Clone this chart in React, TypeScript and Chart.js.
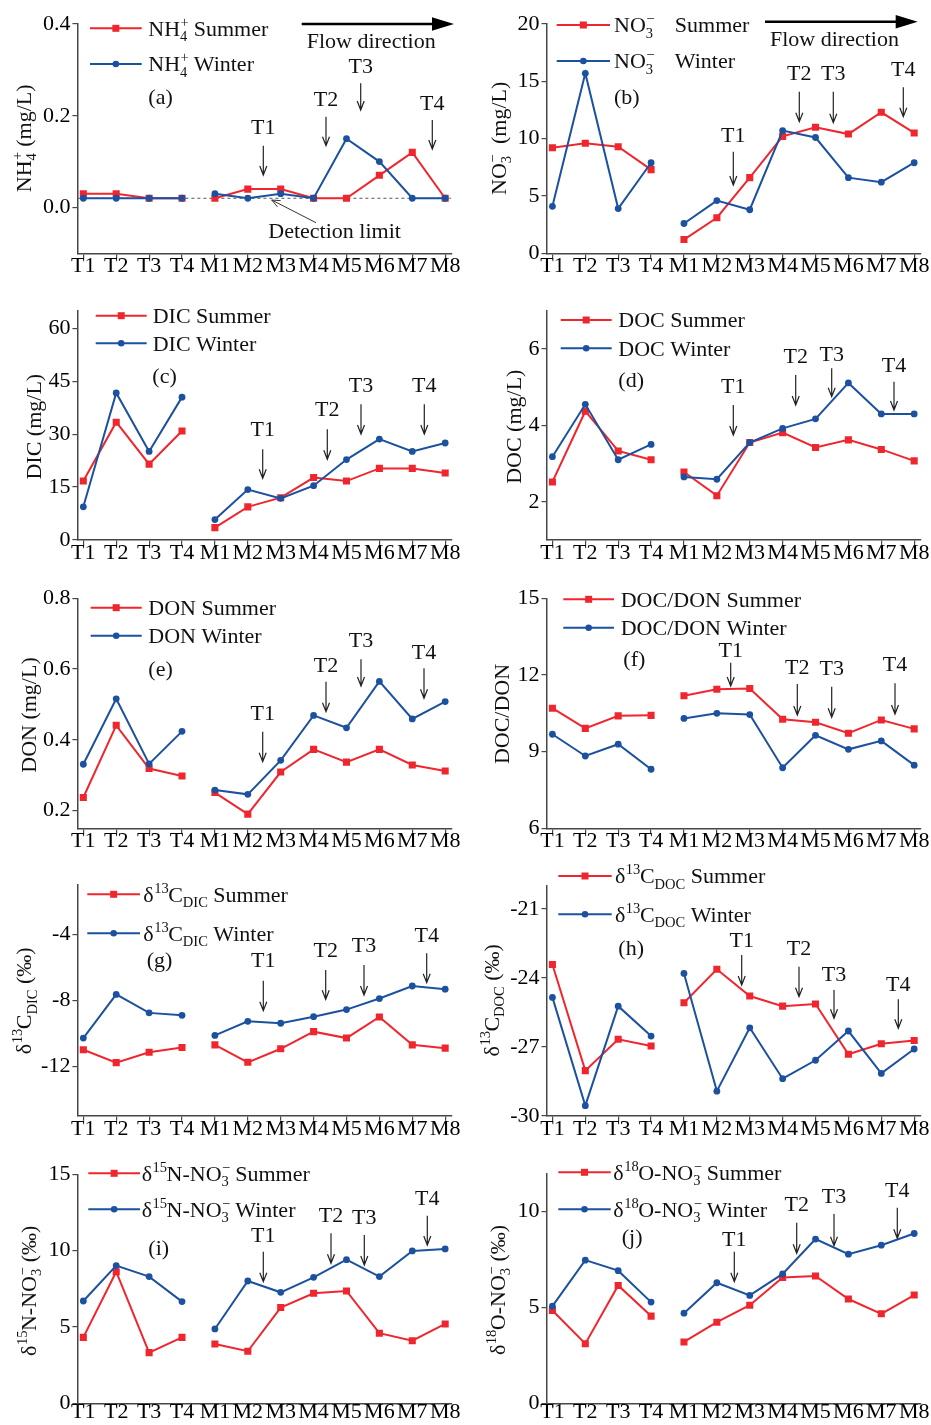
import React, { useEffect, useRef } from 'react';
import { Chart, registerables } from 'chart.js';

Chart.register(...registerables);

// ---------------- data ----------------
const sites = ['T1', 'T2', 'T3', 'T4', 'M1', 'M2', 'M3', 'M4', 'M5', 'M6', 'M7', 'M8'];

const nh4Summer = [0.03, 0.03, 0.02, 0.02, 0.02, 0.04, 0.04, 0.02, 0.02, 0.07, 0.12, 0.02];
const nh4Winter = [0.02, 0.02, 0.02, 0.02, 0.03, 0.02, 0.03, 0.02, 0.15, 0.10, 0.02, 0.02];
const no3Summer = [9.2, 9.6, 9.3, 7.3, 1.2, 3.1, 6.6, 10.2, 11.0, 10.4, 12.3, 10.5];
const no3Winter = [4.1, 15.7, 3.9, 7.9, 2.6, 4.6, 3.8, 10.7, 10.1, 6.6, 6.2, 7.9];
const dicSummer = [16.7, 33.4, 21.5, 30.9, 3.5, 9.4, 12.0, 17.7, 16.7, 20.3, 20.3, 19.0];
const dicWinter = [9.4, 41.7, 25.1, 40.5, 5.8, 14.3, 11.8, 15.4, 22.8, 28.6, 25.1, 27.5];
const docSummer = [2.52, 4.37, 3.33, 3.10, 2.78, 2.16, 3.55, 3.81, 3.42, 3.62, 3.37, 3.07];
const docWinter = [3.18, 4.55, 3.10, 3.50, 2.65, 2.59, 3.55, 3.92, 4.17, 5.11, 4.30, 4.30];
const donSummer = [0.237, 0.441, 0.319, 0.298, 0.251, 0.190, 0.309, 0.373, 0.337, 0.373, 0.329, 0.312];
const donWinter = [0.331, 0.516, 0.332, 0.424, 0.258, 0.246, 0.342, 0.469, 0.434, 0.565, 0.459, 0.508];
const ratioSummer = [10.70, 9.91, 10.40, 10.42, 11.19, 11.44, 11.47, 10.27, 10.15, 9.72, 10.24, 9.89];
const ratioWinter = [9.68, 8.83, 9.29, 8.31, 10.30, 10.50, 10.45, 8.37, 9.64, 9.09, 9.42, 8.47];
const c13DicSummer = [-11.00, -11.78, -11.15, -10.86, -10.70, -11.76, -10.94, -9.90, -10.29, -9.01, -10.70, -10.90];
const c13DicWinter = [-10.29, -7.64, -8.76, -8.91, -10.13, -9.27, -9.39, -8.99, -8.56, -7.89, -7.13, -7.32];
const c13DocSummer = [-23.42, -28.03, -26.67, -26.96, -25.08, -23.63, -24.79, -25.23, -25.14, -27.32, -26.86, -26.72];
const c13DocWinter = [-24.85, -29.55, -25.23, -26.53, -23.81, -28.92, -26.17, -28.38, -27.58, -26.31, -28.15, -27.09];
const n15Summer = [4.32, 8.62, 3.32, 4.32, 3.89, 3.41, 6.27, 7.21, 7.36, 4.59, 4.10, 5.20];
const n15Winter = [6.70, 9.02, 8.30, 6.66, 4.87, 8.01, 7.27, 8.25, 9.41, 8.30, 9.98, 10.11];
const o18Summer = [4.84, 3.11, 6.15, 4.55, 3.20, 4.23, 5.12, 6.56, 6.64, 5.44, 4.67, 5.65];
const o18Winter = [5.07, 7.47, 6.92, 5.28, 4.70, 6.29, 5.63, 6.75, 8.57, 7.78, 8.25, 8.86];
const detectionLimit = 0.02;

const ticksA = [0, 0.2, 0.4];
const ticksB = [0, 5, 10, 15, 20];
const ticksC = [0, 15, 30, 45, 60];
const ticksD = [2, 4, 6];
const ticksE = [0.2, 0.4, 0.6, 0.8];
const ticksF = [6, 9, 12, 15];
const ticksG = [-12, -8, -4];
const ticksH = [-30, -27, -24, -21];
const ticksI = [0, 5, 10, 15];
const ticksJ = [0, 5, 10];

// ---------------- styles ----------------
const RED = '#f0262e';
const BLUE = '#1b519f';
const AXIS = '#474747';
const INK = '#111111';
const FAMILY = '"Liberation Serif", "Times New Roman", serif';
const FS = 22;
const font = (s: number) => `${s}px ${FAMILY}`;

type Arrow = { label: string; x: number; ty: number; y1: number; y2: number };
type PanelCfg = {
  id: string;
  col: number;
  row: number;
  summer: number[];
  winter: number[];
  yMin: number;
  yMax: number;
  yTicks: number[];
  dec: number;
  top: number;
  bottom: number;
  yTitle: string;
  yTitleX: number;
  yTitleY: number;
  series: string;
  legend: { x1: number; x2: number; tx: number; y1: number; y2: number };
  tag: { t: string; x: number; y: number };
  arrows: Arrow[];
  flow?: { x1: number; x2: number; y: number; tx: number; ty: number };
  detection?: { tx: number; ty: number; ax1: number; ay1: number; ax2: number; ay2: number };
};

const A = (label: string, x: number, ty: number, y1: number, y2: number): Arrow => ({ label, x, ty, y1, y2 });

const panels: PanelCfg[] = [
  {
    id: 'a', col: 0, row: 0, summer: nh4Summer, winter: nh4Winter, yMin: -0.1, yMax: 0.4, yTicks: ticksA, dec: 1,
    top: 24, bottom: 253.3, yTitle: 'NH_{4}^{+} (mg/L)', yTitleX: 23.3, yTitleY: 138.3, series: 'NH_{4}^{+}',
    legend: { x1: 90, x2: 141.7, tx: 148.3, y1: 28.3, y2: 64 }, tag: { t: '(a)', x: 148.3, y: 96.7 },
    arrows: [A('T1', 263.3, 126.7, 145.7, 175), A('T2', 326, 98.3, 116.7, 145.7), A('T3', 360.7, 65.7, 83.3, 110), A('T4', 432.3, 102.7, 120, 149)],
    flow: { x1: 301.7, x2: 454, y: 24, tx: 306.7, ty: 40.7 },
    detection: { tx: 268.3, ty: 230.7, ax1: 316, ay1: 222.7, ax2: 271.7, ay2: 200 },
  },
  {
    id: 'b', col: 1, row: 0, summer: no3Summer, winter: no3Winter, yMin: 0, yMax: 20, yTicks: ticksB, dec: 0,
    top: 24, bottom: 253.3, yTitle: 'NO_{3}^{\u2212}  (mg/L)', yTitleX: 498.3, yTitleY: 138.3, series: 'NO_{3}^{\u2212}  \u2009',
    legend: { x1: 556.7, x2: 610, tx: 614, y1: 25, y2: 61 }, tag: { t: '(b)', x: 614, y: 96.7 },
    arrows: [A('T1', 733.3, 135, 151.7, 185), A('T2', 799.3, 72.7, 91.7, 121.7), A('T3', 833.3, 72.7, 91.7, 122.7), A('T4', 903.3, 68.3, 87.3, 116.7)],
    flow: { x1: 765, x2: 917.7, y: 21.7, tx: 770, ty: 38.3 },
  },
  {
    id: 'c', col: 0, row: 1, summer: dicSummer, winter: dicWinter, yMin: 0, yMax: 65, yTicks: ticksC, dec: 0,
    top: 310.7, bottom: 540, yTitle: 'DIC (mg/L)', yTitleX: 33.3, yTitleY: 426.7, series: 'DIC',
    legend: { x1: 95.7, x2: 146.7, tx: 152.7, y1: 315.7, y2: 343.3 }, tag: { t: '(c)', x: 152.3, y: 376 },
    arrows: [A('T1', 262.7, 428.3, 449.3, 478.3), A('T2', 327.3, 408.3, 429.3, 459.3), A('T3', 361, 385, 404.3, 434), A('T4', 424.3, 385, 404.3, 434)],
  },
  {
    id: 'd', col: 1, row: 1, summer: docSummer, winter: docWinter, yMin: 1, yMax: 7, yTicks: ticksD, dec: 0,
    top: 310.7, bottom: 540, yTitle: 'DOC (mg/L)', yTitleX: 513.3, yTitleY: 426.7, series: 'DOC',
    legend: { x1: 560.7, x2: 611.7, tx: 618.3, y1: 320, y2: 348.3 }, tag: { t: '(d)', x: 618.3, y: 380 },
    arrows: [A('T1', 733.3, 386, 405, 435), A('T2', 795.7, 356, 375, 405), A('T3', 831.7, 354, 368.3, 396.7), A('T4', 894, 365, 381.7, 410)],
  },
  {
    id: 'e', col: 0, row: 2, summer: donSummer, winter: donWinter, yMin: 0.15, yMax: 0.8, yTicks: ticksE, dec: 1,
    top: 598.3, bottom: 828.3, yTitle: 'DON (mg/L)', yTitleX: 28.3, yTitleY: 715, series: 'DON',
    legend: { x1: 90.7, x2: 141.7, tx: 148.3, y1: 607.7, y2: 635.7 }, tag: { t: '(e)', x: 148.3, y: 668.3 },
    arrows: [A('T1', 262.7, 712.7, 731.7, 761.7), A('T2', 326, 665, 681.7, 711.7), A('T3', 361, 640, 659.3, 686), A('T4', 424, 651.7, 668.3, 698.3)],
  },
  {
    id: 'f', col: 1, row: 2, summer: ratioSummer, winter: ratioWinter, yMin: 6, yMax: 15, yTicks: ticksF, dec: 0,
    top: 598.3, bottom: 828.3, yTitle: 'DOC/DON', yTitleX: 501.7, yTitleY: 714, series: 'DOC/DON',
    legend: { x1: 563.3, x2: 614, tx: 620.7, y1: 599.3, y2: 627.7 }, tag: { t: '(f)', x: 623.3, y: 658.3 },
    arrows: [A('T1', 730.7, 650, 662.7, 686), A('T2', 797.3, 666.7, 684, 715), A('T3', 831.7, 667.3, 686.7, 717.3), A('T4', 895, 663.3, 683.3, 714)],
  },
  {
    id: 'g', col: 0, row: 3, summer: c13DicSummer, winter: c13DicWinter, yMin: -15, yMax: -1, yTicks: ticksG, dec: 0,
    top: 885, bottom: 1115.7, yTitle: '\u03b4^{13}C_{DIC} (\u2030)', yTitleX: 24, yTitleY: 1000.8, series: '\u03b4^{13}C_{DIC}',
    legend: { x1: 87.3, x2: 140, tx: 143.3, y1: 894.3, y2: 933.3 }, tag: { t: '(g)', x: 146.7, y: 960 },
    arrows: [A('T1', 263.3, 959.3, 980.7, 1010.7), A('T2', 325.7, 949.3, 970, 999.3), A('T3', 364, 945, 965, 995), A('T4', 426.7, 935, 953.3, 982.7)],
  },
  {
    id: 'h', col: 1, row: 3, summer: c13DocSummer, winter: c13DocWinter, yMin: -30, yMax: -20, yTicks: ticksH, dec: 0,
    top: 885.7, bottom: 1116, yTitle: '\u03b4^{13}C_{DOC} (\u2030)', yTitleX: 491.5, yTitleY: 1000.3, series: '\u03b4^{13}C_{DOC}',
    legend: { x1: 558.3, x2: 611.7, tx: 615, y1: 876, y2: 914.3 }, tag: { t: '(h)', x: 618.3, y: 947.7 },
    arrows: [A('T1', 741.7, 940, 955, 985), A('T2', 799, 947.7, 966.7, 996.7), A('T3', 834, 973.3, 990, 1018.3), A('T4', 898.3, 983.3, 999.3, 1028.3)],
  },
  {
    id: 'i', col: 0, row: 4, summer: n15Summer, winter: n15Winter, yMin: 0, yMax: 15, yTicks: ticksI, dec: 0,
    top: 1174.3, bottom: 1403.3, yTitle: '\u03b4^{15}N-NO_{3}^{\u2212} (\u2030)', yTitleX: 28.7, yTitleY: 1290.8, series: '\u03b4^{15}N-NO_{3}^{\u2212}',
    legend: { x1: 88.3, x2: 140, tx: 141.7, y1: 1173.3, y2: 1209.3 }, tag: { t: '(i)', x: 148.3, y: 1247.3 },
    arrows: [A('T1', 263.3, 1234.3, 1251.7, 1281.7), A('T2', 331, 1215, 1233.3, 1263.3), A('T3', 364.3, 1216.7, 1235, 1265), A('T4', 427.3, 1197.3, 1215.7, 1245)],
  },
  {
    id: 'j', col: 1, row: 4, summer: o18Summer, winter: o18Winter, yMin: 0, yMax: 12, yTicks: ticksJ, dec: 0,
    top: 1173.3, bottom: 1403.3, yTitle: '\u03b4^{18}O-NO_{3}^{\u2212} (\u2030)', yTitleX: 497.3, yTitleY: 1290, series: '\u03b4^{18}O-NO_{3}^{\u2212}',
    legend: { x1: 558.3, x2: 610.7, tx: 613.3, y1: 1172.3, y2: 1209.3 }, tag: { t: '(j)', x: 621.7, y: 1236.7 },
    arrows: [A('T1', 734.3, 1238.3, 1251.7, 1281.7), A('T2', 796.7, 1203.3, 1222.7, 1253.3), A('T3', 834, 1196, 1214, 1245.7), A('T4', 897.3, 1190, 1207.7, 1238.3)],
  },
];

const COLS = [
  { x: 0, w: 465, yw: 77.4, pr: 13.9 },
  { x: 465, w: 466, yw: 81.5, pr: 10.9 },
];
const ROWS = [
  { y: 0, h: 287, labelPad: -5 },
  { y: 287, h: 288, labelPad: -5 },
  { y: 575, h: 287, labelPad: -5 },
  { y: 862, h: 288, labelPad: -5 },
  { y: 1150, h: 275, labelPad: -9 },
];
const X_MIN = -0.18;
const X_MAX = 11.18;

// ---------------- rich text ----------------
type Seg = { t: string; sub?: string; sup?: string };
function parseRich(s: string): Seg[] {
  const segs: Seg[] = [];
  let buf = '';
  let i = 0;
  const flush = () => {
    if (buf) {
      segs.push({ t: buf });
      buf = '';
    }
  };
  while (i < s.length) {
    if ((s[i] === '_' || s[i] === '^') && s[i + 1] === '{') {
      const end = s.indexOf('}', i);
      const content = s.slice(i + 2, end);
      const kind = s[i] === '_' ? 'sub' : 'sup';
      flush();
      const last = segs[segs.length - 1] as any;
      if (last && last.t === '' && last[kind] === undefined) last[kind] = content;
      else segs.push({ t: '', [kind]: content } as Seg);
      i = end + 1;
    } else {
      buf += s[i];
      i++;
    }
  }
  flush();
  return segs;
}
const SCRIPT = 0.66;
function richWidth(ctx: CanvasRenderingContext2D, segs: Seg[], fs: number) {
  let w = 0;
  for (const s of segs) {
    if (s.t) {
      ctx.font = font(fs);
      w += ctx.measureText(s.t).width;
    } else {
      ctx.font = font(fs * SCRIPT);
      w += Math.max(s.sub ? ctx.measureText(s.sub).width : 0, s.sup ? ctx.measureText(s.sup).width : 0);
    }
  }
  return w;
}
function drawRich(ctx: CanvasRenderingContext2D, text: string, x: number, baseline: number, fs: number) {
  const segs = parseRich(text);
  ctx.textAlign = 'left';
  ctx.textBaseline = 'alphabetic';
  let cx = x;
  for (const s of segs) {
    if (s.t) {
      ctx.font = font(fs);
      ctx.fillText(s.t, cx, baseline);
      cx += ctx.measureText(s.t).width;
    } else {
      ctx.font = font(fs * SCRIPT);
      if (s.sub) ctx.fillText(s.sub, cx, baseline + fs * 0.25);
      if (s.sup) ctx.fillText(s.sup, cx + 0.5, baseline - fs * 0.4);
      cx += Math.max(s.sub ? ctx.measureText(s.sub).width : 0, s.sup ? ctx.measureText(s.sup).width : 0);
    }
  }
  return cx;
}

function vArrow(ctx: CanvasRenderingContext2D, x: number, y1: number, y2: number) {
  ctx.beginPath();
  ctx.moveTo(x, y1);
  ctx.lineTo(x, y2);
  ctx.moveTo(x - 3.5, y2 - 9);
  ctx.lineTo(x, y2);
  ctx.lineTo(x + 3.5, y2 - 9);
  ctx.stroke();
}

function makeOverlay(p: PanelCfg, ox: number, oy: number) {
  return {
    id: 'overlay',
    beforeDatasetsDraw(chart: any) {
      if (!p.detection) return;
      const ctx = chart.ctx as CanvasRenderingContext2D;
      const y = chart.scales.y.getPixelForValue(detectionLimit);
      ctx.save();
      ctx.strokeStyle = '#555';
      ctx.lineWidth = 1;
      ctx.setLineDash([3, 3]);
      ctx.beginPath();
      ctx.moveTo(chart.chartArea.left, y);
      ctx.lineTo(chart.chartArea.right, y);
      ctx.stroke();
      ctx.restore();
    },
    afterDraw(chart: any) {
      const ctx = chart.ctx as CanvasRenderingContext2D;
      ctx.save();
      ctx.translate(-ox, -oy);
      ctx.fillStyle = INK;
      ctx.strokeStyle = INK;
      const capOff = FS * 0.33;

      // y title (rotated)
      const segs = parseRich(p.yTitle);
      const tw = richWidth(ctx, segs, FS);
      ctx.save();
      ctx.translate(p.yTitleX, p.yTitleY);
      ctx.rotate(-Math.PI / 2);
      drawRich(ctx, p.yTitle, -tw / 2, capOff, FS);
      ctx.restore();

      // legend
      const L = p.legend;
      const rows = [
        { y: L.y1, color: RED, rect: true, name: p.series + ' Summer' },
        { y: L.y2, color: BLUE, rect: false, name: p.series + ' Winter' },
      ];
      for (const r of rows) {
        ctx.strokeStyle = r.color;
        ctx.fillStyle = r.color;
        ctx.lineWidth = 2;
        ctx.beginPath();
        ctx.moveTo(L.x1, r.y);
        ctx.lineTo(L.x2, r.y);
        ctx.stroke();
        const mx = (L.x1 + L.x2) / 2;
        if (r.rect) ctx.fillRect(mx - 3.5, r.y - 3.5, 7, 7);
        else {
          ctx.beginPath();
          ctx.arc(mx, r.y, 3.3, 0, Math.PI * 2);
          ctx.fill();
        }
        ctx.fillStyle = INK;
        drawRich(ctx, r.name, L.tx, r.y + capOff, FS);
      }

      // panel tag
      ctx.fillStyle = INK;
      drawRich(ctx, p.tag.t, p.tag.x, p.tag.y + capOff, FS);

      // tributary arrows
      ctx.strokeStyle = '#222';
      ctx.lineWidth = 1.2;
      for (const a of p.arrows) {
        ctx.font = font(FS);
        ctx.textAlign = 'center';
        ctx.textBaseline = 'alphabetic';
        ctx.fillText(a.label, a.x, a.ty + capOff);
        vArrow(ctx, a.x, a.y1, a.y2);
      }

      // flow direction
      if (p.flow) {
        const f = p.flow;
        ctx.strokeStyle = '#000';
        ctx.fillStyle = '#000';
        ctx.lineWidth = 2.6;
        ctx.beginPath();
        ctx.moveTo(f.x1, f.y);
        ctx.lineTo(f.x2 - 18, f.y);
        ctx.stroke();
        ctx.beginPath();
        ctx.moveTo(f.x2, f.y);
        ctx.lineTo(f.x2 - 22, f.y - 6.8);
        ctx.lineTo(f.x2 - 22, f.y + 6.8);
        ctx.closePath();
        ctx.fill();
        ctx.fillStyle = INK;
        drawRich(ctx, 'Flow direction', f.tx, f.ty + capOff, FS);
      }

      // detection limit note
      if (p.detection) {
        const d = p.detection;
        ctx.fillStyle = INK;
        drawRich(ctx, 'Detection limit', d.tx, d.ty + capOff, FS);
        ctx.strokeStyle = '#333';
        ctx.lineWidth = 1;
        ctx.beginPath();
        ctx.moveTo(d.ax1, d.ay1);
        ctx.lineTo(d.ax2, d.ay2);
        const ang = Math.atan2(d.ay2 - d.ay1, d.ax2 - d.ax1);
        const hl = 9;
        const hw = 0.4;
        ctx.moveTo(d.ax2 - hl * Math.cos(ang - hw), d.ay2 - hl * Math.sin(ang - hw));
        ctx.lineTo(d.ax2, d.ay2);
        ctx.lineTo(d.ax2 - hl * Math.cos(ang + hw), d.ay2 - hl * Math.sin(ang + hw));
        ctx.stroke();
      }
      ctx.restore();
    },
  };
}

function buildConfig(p: PanelCfg): any {
  const col = COLS[p.col];
  const row = ROWS[p.row];
  const padTop = p.top - row.y;
  const xh = row.y + row.h - p.bottom;
  const gap = (ctx: any, c: string) => (ctx.p0DataIndex === 3 ? 'rgba(0,0,0,0)' : c);
  const pts = (arr: number[]) => arr.map((v, i) => ({ x: i, y: v }));
  return {
    type: 'line',
    data: {
      datasets: [
        {
          label: 'Winter', data: pts(p.winter), borderColor: BLUE, backgroundColor: BLUE,
          pointBorderColor: BLUE, pointBackgroundColor: BLUE, pointStyle: 'circle', pointRadius: 3.4, pointBorderWidth: 0,
          borderWidth: 2, tension: 0, segment: { borderColor: (ctx: any) => gap(ctx, BLUE) },
        },
        {
          label: 'Summer', data: pts(p.summer), borderColor: RED, backgroundColor: RED,
          pointBorderColor: RED, pointBackgroundColor: RED, pointStyle: 'rect', pointRadius: 5, pointBorderWidth: 0,
          borderWidth: 2, tension: 0, segment: { borderColor: (ctx: any) => gap(ctx, RED) },
        },
      ],
    },
    options: {
      responsive: false,
      animation: false,
      events: [],
      layout: { padding: { left: 0, top: padTop, right: col.pr, bottom: 0 } },
      plugins: { legend: { display: false }, tooltip: { enabled: false }, title: { display: false } },
      scales: {
        x: {
          type: 'linear',
          min: X_MIN,
          max: X_MAX,
          afterBuildTicks: (s: any) => {
            s.ticks = sites.map((_, i) => ({ value: i }));
          },
          afterFit: (s: any) => {
            s.height = xh;
          },
          ticks: {
            autoSkip: false,
            maxRotation: 0,
            minRotation: 0,
            padding: row.labelPad,
            color: '#000',
            font: { family: FAMILY, size: FS },
            callback: (v: number) => sites[Math.round(v)] ?? '',
          },
          grid: { drawOnChartArea: false, drawTicks: true, tickLength: 5, color: AXIS, lineWidth: 1.2 },
          border: { display: true, color: AXIS, width: 1.5 },
        },
        y: {
          type: 'linear',
          min: p.yMin,
          max: p.yMax,
          afterBuildTicks: (s: any) => {
            s.ticks = p.yTicks.map((v) => ({ value: v }));
          },
          afterFit: (s: any) => {
            s.width = col.yw;
          },
          ticks: {
            padding: 2,
            color: '#000',
            font: { family: FAMILY, size: FS },
            callback: (v: number) => Number(v).toFixed(p.dec),
          },
          grid: { drawOnChartArea: false, drawTicks: true, tickLength: 5, color: AXIS, lineWidth: 1.2 },
          border: { display: true, color: AXIS, width: 1.5 },
        },
      },
    },
    plugins: [makeOverlay(p, col.x, row.y)],
  };
}

function Panel({ cfg }: { cfg: PanelCfg }) {
  const ref = useRef<HTMLCanvasElement>(null);
  const col = COLS[cfg.col];
  const row = ROWS[cfg.row];
  useEffect(() => {
    if (!ref.current) return;
    const chart = new Chart(ref.current, buildConfig(cfg));
    return () => chart.destroy();
  }, [cfg]);
  return (
    <canvas
      ref={ref}
      width={col.w}
      height={row.h}
      style={{ position: 'absolute', left: col.x, top: row.y, width: col.w, height: row.h }}
    />
  );
}

export default function App() {
  return (
    <div
      style={{
        position: 'absolute',
        left: 0,
        top: 0,
        width: 931,
        height: 1425,
        overflow: 'hidden',
        background: '#ffffff',
      }}
    >
      {panels.map((p) => (
        <Panel key={p.id} cfg={p} />
      ))}
    </div>
  );
}
